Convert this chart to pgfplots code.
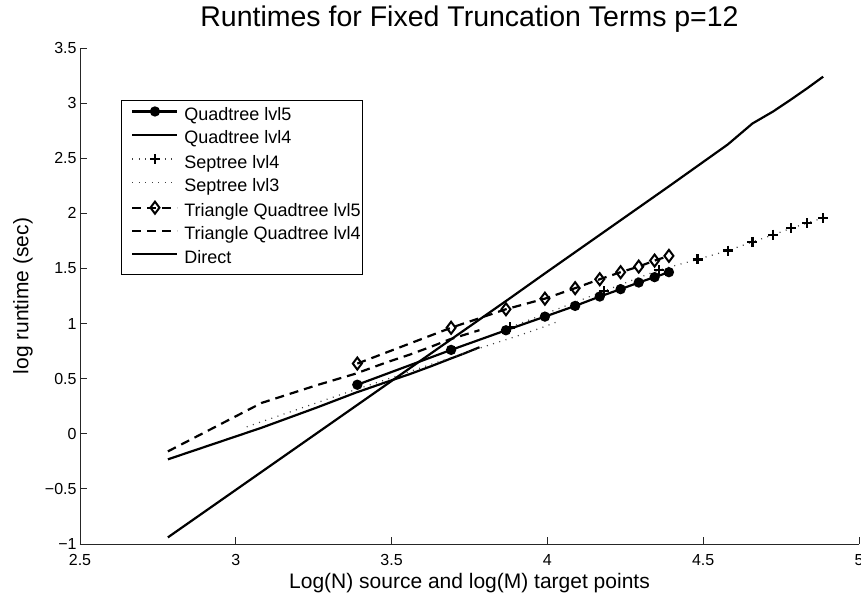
\documentclass[border=0pt]{standalone}
\usepackage{fontspec}
\setmainfont{Liberation Sans}
\usepackage{pgfplots}
\pgfplotsset{compat=1.18}
\begin{document}
\begin{tikzpicture}
\begin{axis}[
  at={(0,0)}, anchor=south west,
  scale only axis, width=779bp, height=496bp,
  xmin=2.5, xmax=5, ymin=-1, ymax=3.5,
  axis lines*=left,
  axis line style={line width=0.8bp, black!85},
  xtick={2.5,3,3.5,4,4.5,5}, xticklabels={2.5,3,3.5,4,4.5,5},
  ytick={-1,-0.5,0,0.5,1,1.5,2,2.5,3,3.5},
  yticklabels={−1,−0.5,0,0.5,1,1.5,2,2.5,3,3.5},
  tick align=inside, major tick length=7bp,
  tick style={line width=0.8bp, black!85},
  xticklabel style={font=\fontsize{16bp}{19bp}\selectfont, anchor=base, inner sep=0pt, yshift=-21bp},
  yticklabel style={font=\fontsize{16bp}{19bp}\selectfont, anchor=east, inner sep=0pt, xshift=-3.3bp},
  xlabel={Log(N) source and log(M) target points},
  xlabel style={font=\fontsize{21bp}{25bp}\selectfont, at={(axis description cs:0.5,0)}, anchor=base, inner sep=0pt, yshift=-44bp},
  ylabel={log runtime (sec)},
  ylabel style={font=\fontsize{21bp}{25bp}\selectfont, at={(axis description cs:-0.0732,0.5)}, anchor=center, inner sep=0pt},
  title={Runtimes for Fixed Truncation Terms p=12},
  title style={font=\fontsize{28.5bp}{33bp}\selectfont, at={(axis description cs:0.5,1)}, anchor=base, inner sep=0pt, yshift=16bp},
  legend style={at={(axis description cs:0.0526,0.895)}, anchor=north west, draw=black, line width=0.8bp, fill=white,
    font=\fontsize{18bp}{21bp}\selectfont, inner xsep=2bp, inner ysep=7bp, row sep=6.3bp,
    nodes={inner sep=0bp, text height=13bp, text depth=4bp},
    /tikz/every odd column/.append style={column sep=5.7bp}},
  legend cell align=left,
  legend image code/.code={\path (0bp,0bp); \draw[mark repeat=2,mark phase=2,#1] plot coordinates {(8bp,4.5bp)(30.5bp,4.5bp)(53bp,4.5bp)};},
  mydot/.style={line width=1.2bp, black!75, dash pattern=on 1bp off 5.5bp},
  mydash/.style={line width=2.2bp, dash pattern=on 9bp off 6bp},
]
% Quadtree lvl5
\addplot[black, line width=2.2bp, mark=*, mark size=4bp, mark options={solid}] coordinates {
(3.390,0.445) (3.691,0.761) (3.867,0.939) (3.992,1.063) (4.089,1.160)
(4.168,1.245) (4.235,1.312) (4.293,1.372) (4.344,1.421) (4.390,1.466)};
\addlegendentry{Quadtree lvl5}
% Quadtree lvl4
\addplot[black, line width=2.2bp] coordinates {
(2.782,-0.232) (3.083,0.055) (3.259,0.237) (3.384,0.372) (3.481,0.467)
(3.560,0.543) (3.627,0.613) (3.685,0.677) (3.736,0.732) (3.782,0.785)};
\addlegendentry{Quadtree lvl4}
% Septree lvl4
\addplot[mydot, mark=+, mark size=5bp, mark options={solid, black, line width=2.2bp}] coordinates {
(3.880,0.965) (4.181,1.294) (4.357,1.485) (4.482,1.582) (4.579,1.662)
(4.658,1.740) (4.725,1.806) (4.783,1.865) (4.834,1.912) (4.885,1.958)};
\addlegendentry{Septree lvl4}
% Septree lvl3
\addplot[mydot] coordinates {
(3.035,0.063) (3.336,0.355) (3.512,0.520) (3.637,0.640) (3.734,0.730)
(3.813,0.805) (3.880,0.865) (3.938,0.920) (3.989,0.970) (4.035,1.020)};
\addlegendentry{Septree lvl3}
% Triangle Quadtree lvl5
\addplot[black, mydash, mark=diamond, mark size=6bp, mark options={solid, fill=white, line width=2bp}] coordinates {
(3.390,0.637) (3.691,0.962) (3.867,1.130) (3.992,1.226) (4.089,1.321)
(4.168,1.402) (4.235,1.466) (4.293,1.517) (4.344,1.571) (4.390,1.614)};
\addlegendentry{Triangle Quadtree lvl5}
% Triangle Quadtree lvl4
\addplot[black, mydash] coordinates {
(2.782,-0.160) (3.083,0.280) (3.259,0.440) (3.384,0.545) (3.481,0.645)
(3.560,0.720) (3.627,0.790) (3.685,0.855) (3.736,0.900) (3.782,0.940)};
\addlegendentry{Triangle Quadtree lvl4}
% Direct
\addplot[black, line width=2.2bp] coordinates {
(2.782,-0.940) (3.083,-0.345) (3.384,0.250) (3.685,0.845) (3.880,1.230)
(3.992,1.455) (4.181,1.830) (4.390,2.245) (4.482,2.430) (4.579,2.625)
(4.658,2.815) (4.725,2.925) (4.783,3.035) (4.834,3.135) (4.885,3.240)};
\addlegendentry{Direct}
\end{axis}
\pgfresetboundingbox
\useasboundingbox (-80bp,-50bp) rectangle (781bp,544bp);
\end{tikzpicture}
\end{document}
